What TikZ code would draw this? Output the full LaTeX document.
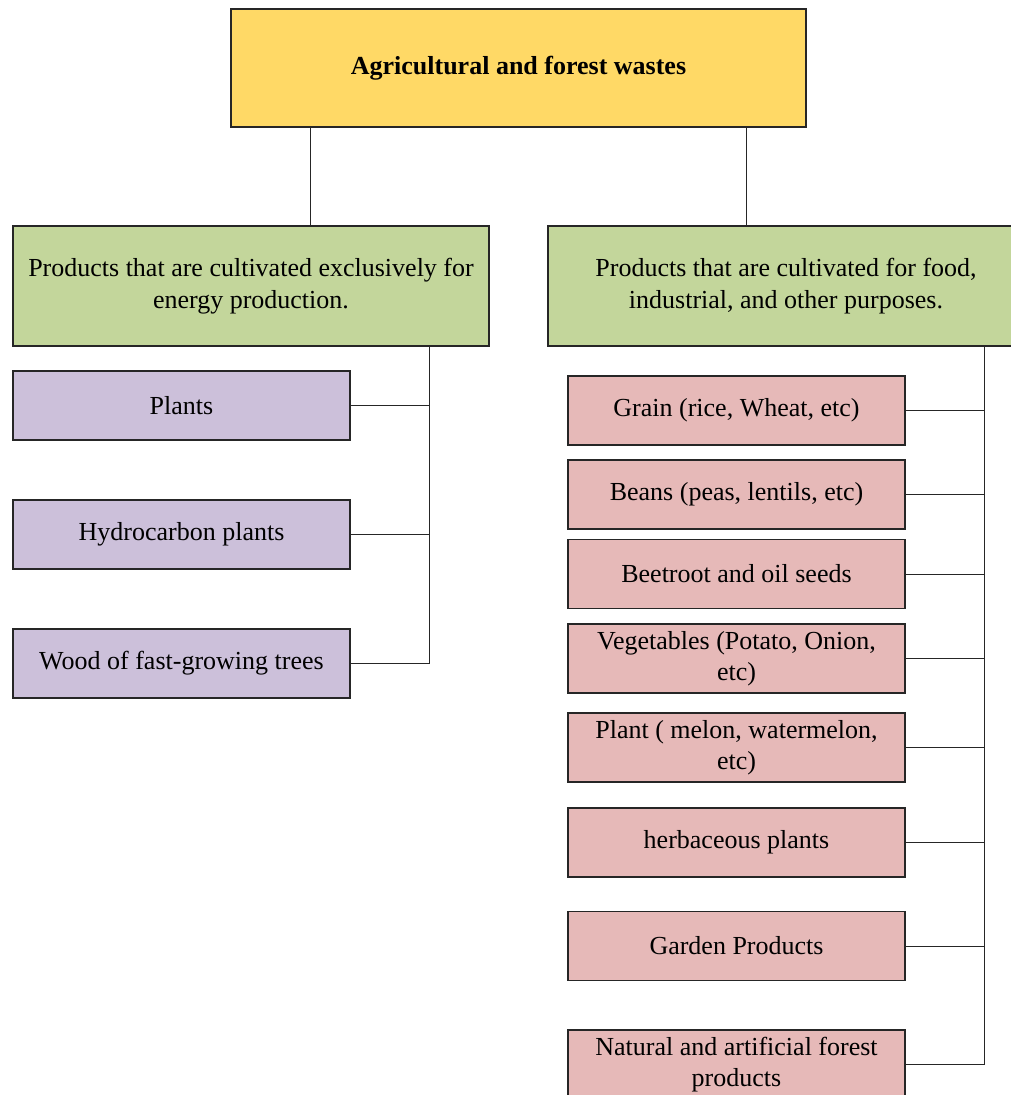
\documentclass[tikz,border=0pt]{standalone}
\usepackage{fontspec}
\setmainfont{Liberation Serif}
\definecolor{topY}{HTML}{FFD966}
\definecolor{grn}{HTML}{C3D69B}
\definecolor{pur}{HTML}{CCC0DA}
\definecolor{pnk}{HTML}{E6B9B8}
\begin{document}
\begin{tikzpicture}[x=1pt,y=-1pt,
  box/.style={draw=black!85, line width=1.3pt, inner sep=0pt, align=center,
    font=\fontsize{26}{31.5}\selectfont},
  topbox/.style={box, fill=topY, minimum width=575pt, minimum height=118pt,
    font=\fontsize{26}{31.5}\selectfont\bfseries},
  grnbox/.style={box, fill=grn, minimum width=476pt, minimum height=120pt},
  purbox/.style={box, fill=pur, minimum width=337pt, minimum height=69pt},
  pnkbox/.style={box, fill=pnk, minimum width=337pt, minimum height=69pt},
  link/.style={draw=black!85, line width=1pt}]
\useasboundingbox (0,0) rectangle (1010,1095);
\node[topbox] (top) at (518.5,68) {Agricultural and forest wastes};
\node[grnbox] (lg) at (251,286) {Products that are cultivated exclusively for\\energy production.};
\node[grnbox, minimum width=482pt] (rg) at (789,286) {\hspace*{-6pt}Products that are cultivated for food,\\\hspace*{-6pt}industrial, and other purposes.};
\node[purbox] (p1) at (181.5,405.5) {Plants};
\node[purbox] (p2) at (181.5,534.5) {Hydrocarbon plants};
\node[purbox] (p3) at (181.5,663.5) {Wood of fast-growing trees};
\node[pnkbox] (r1) at (736.5,410.5) {Grain (rice, Wheat, etc)};
\node[pnkbox] (r2) at (736.5,494.5) {Beans (peas, lentils, etc)};
\node[pnkbox] (r3) at (736.5,574) {Beetroot and oil seeds};
\node[pnkbox] (r4) at (736.5,658.5) {Vegetables (Potato, Onion,\\etc)};
\node[pnkbox] (r5) at (736.5,747.5) {Plant ( melon, watermelon,\\etc)};
\node[pnkbox] (r6) at (736.5,842.5) {herbaceous plants};
\node[pnkbox] (r7) at (736.5,946) {Garden Products};
\node[pnkbox] (r8) at (736.5,1064.5) {Natural and artificial forest\\products};
% top connectors
\draw[link] (top.south -| 310,0) -- (lg.north -| 310,0);
\draw[link] (top.south -| 746,0) -- (rg.north -| 746,0);
% left bus
\draw[link] (lg.south -| 429,0) -- (p3.east -| 429,0);
\foreach \n in {p1,p2,p3} \draw[link] (\n.east) -- (\n.east -| 429,0);
% right bus
\draw[link] (rg.south -| 984,0) -- (r8.east -| 984,0);
\foreach \n in {r1,r2,r3,r4,r5,r6,r7,r8} \draw[link] (\n.east) -- (\n.east -| 984,0);
\end{tikzpicture}
\end{document}
